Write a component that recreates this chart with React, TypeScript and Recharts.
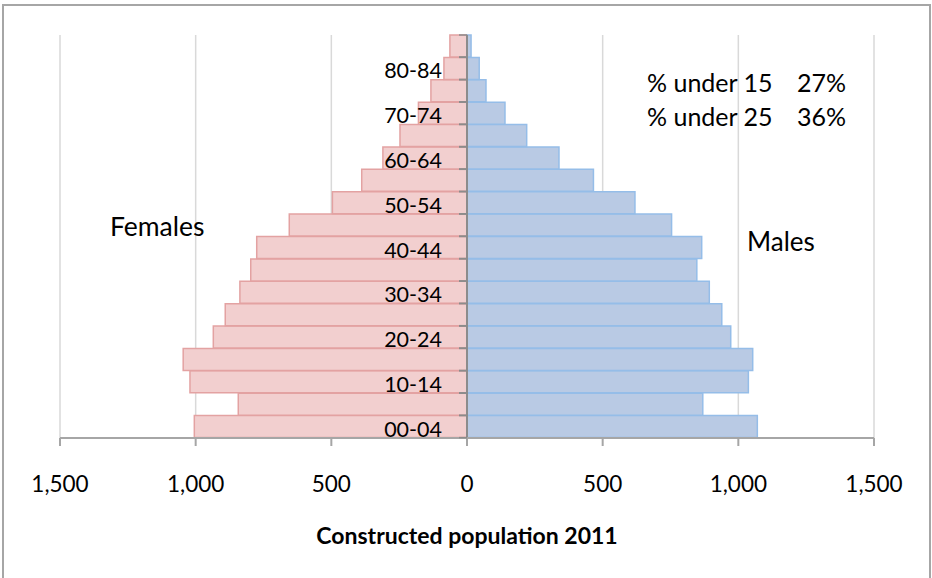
import React from 'react';
import { BarChart, Bar, XAxis, YAxis, CartesianGrid, ReferenceLine, LabelList } from 'recharts';

const ages = ['00-04', '05-09', '10-14', '15-19', '20-24', '25-29', '30-34', '35-39', '40-44', '45-49', '50-54', '55-59', '60-64', '65-69', '70-74', '75-79', '80-84', '85+'];
const females = [1005, 843, 1021, 1046, 935, 891, 837, 797, 775, 655, 496, 388, 310, 247, 179, 133, 85, 63];
const males = [1070, 869, 1037, 1053, 972, 939, 893, 847, 865, 754, 619, 466, 339, 220, 140, 70, 45, 15];
const xTicks = [-1500, -1000, -500, 0, 500, 1000, 1500];
const notes = ['% under 15', '% under 25'];
const noteValues = ['27%', '36%'];

const data = ages.map((age, i) => ({ age, female: -females[i], male: males[i] }));

const FONT = 'Lato, "Open Sans", sans-serif';
const W = 932;
const H = 578;

const fmt = (v: number) => Math.abs(v).toLocaleString('en-US');

const CategoryLabel = (props: any) => {
  const vb = props.viewBox && props.viewBox.x !== undefined ? props.viewBox : props;
  const x = Number(vb.x);
  const y = Number(vb.y);
  const w = Number(vb.width);
  const h = Number(vb.height);
  const right = Math.max(x, x + w);
  const top = Math.min(y, y + h);
  const bottom = Math.max(y, y + h);
  const idx = props.index;
  return (
    <g>
      <line x1={right - 8} x2={right} y1={top} y2={top} stroke="#8c8c8c" strokeWidth={1.5} />
      <line x1={right - 8} x2={right} y1={bottom} y2={bottom} stroke="#8c8c8c" strokeWidth={1.5} />
      {idx % 2 === 0 ? (
        <text x={right - 25} y={(top + bottom) / 2 + 10} textAnchor="end" fontSize={21.5} fontFamily={FONT} fill="#000">
          {props.value}
        </text>
      ) : null}
    </g>
  );
};

export default function App() {
  return (
    <div style={{ position: 'fixed', left: 0, top: 0, width: W, height: H, overflow: 'hidden', background: '#fff' }}>
      <div style={{ position: 'absolute', left: 2, top: 4, width: 925, height: 620, border: '2px solid #a6a6a6' }} />
      <div style={{ position: 'absolute', left: 0, top: 0 }}>
        <BarChart
          width={W}
          height={H}
          data={data}
          layout="vertical"
          stackOffset="sign"
          barCategoryGap={0}
          margin={{ top: 35, right: 58, left: 60, bottom: 0 }}
        >
          <CartesianGrid horizontal={false} stroke="#d9d9d9" strokeWidth={1.5} />
          <XAxis
            type="number"
            domain={[-1500, 1500]}
            ticks={xTicks}
            tickFormatter={fmt}
            height={140}
            axisLine={{ stroke: '#a6a6a6', strokeWidth: 2 }}
            tickLine={{ stroke: '#a6a6a6', strokeWidth: 2 }}
            tickSize={8}
            tickMargin={30}
            tick={{ fontSize: 22.5, fontFamily: FONT, fill: '#000' }}
            interval={0}
          />
          <YAxis type="category" dataKey="age" reversed hide />
          <Bar dataKey="female" stackId="a" fill="#f2cfcf" stroke="#e3a2a2" strokeWidth={1.5} isAnimationActive={false}>
            <LabelList dataKey="age" content={CategoryLabel} />
          </Bar>
          <Bar dataKey="male" stackId="a" fill="#b9cae4" stroke="#95bde8" strokeWidth={1.5} isAnimationActive={false} />
          <ReferenceLine x={0} stroke="#8c8c8c" strokeWidth={2} />
        </BarChart>
      </div>
      <div style={{ position: 'absolute', left: 110, top: 210, fontSize: 26.5, fontFamily: FONT, color: '#000', lineHeight: '32px' }}>Females</div>
      <div style={{ position: 'absolute', left: 747, top: 225, fontSize: 26, fontFamily: FONT, color: '#000', lineHeight: '32px' }}>Males</div>
      {notes.map((n, i) => (
        <div key={n} style={{ position: 'absolute', left: 647, top: 66 + i * 34, fontSize: 25, fontFamily: FONT, color: '#000', lineHeight: '32px', whiteSpace: 'nowrap' }}>
          {n}
          <span style={{ position: 'absolute', left: 150 }}>{noteValues[i]}</span>
        </div>
      ))}
      <div style={{ position: 'absolute', left: 0, width: 934, top: 520, textAlign: 'center', fontSize: 23, lineHeight: '30px', fontWeight: 700, fontFamily: FONT, color: '#000' }}>
        Constructed population 2011
      </div>
    </div>
  );
}
